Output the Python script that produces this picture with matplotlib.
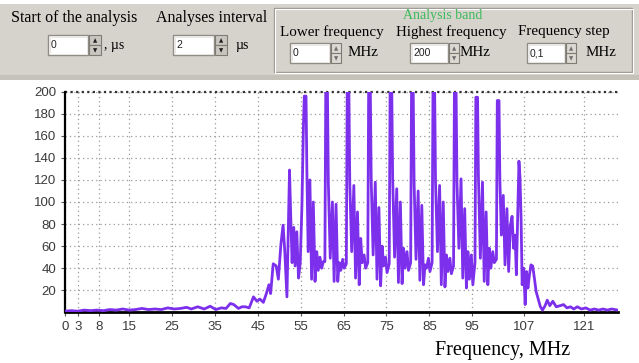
import matplotlib
matplotlib.use("Agg")
import matplotlib.pyplot as plt
from matplotlib.patches import Rectangle

# spectrum (vertices of the trace)
freq_mhz = [0, 1.5, 3, 4.5, 6, 7.5, 9, 10.5, 12, 13.5, 15, 16.5, 18, 19.5, 21, 22.5,
            24, 25.5, 27, 28.4, 29.5, 31, 32.5, 33.9, 35.2, 36.5, 37.6, 38.6, 39.4,
            40.5, 41.3, 42.1, 43.0, 44.0, 44.8, 45.5, 46.3, 47.0, 47.6, 48.0, 48.6,
            49.3, 49.8, 50.4, 50.9, 51.3, 51.8, 52.4, 52.7, 53.0, 53.4, 53.7, 54.1,
            54.5, 54.9, 55.3, 55.65,
            55.85, 56.25, 56.45, 56.75, 57.15, 57.55, 57.95, 58.35, 58.75, 59.1, 59.5, 59.9, 60.3, 60.65,
            60.85, 61.25, 61.45, 61.9, 62.4, 62.8, 63.25, 63.65, 64.0, 64.35, 64.8, 65.15, 65.65,
            65.85, 66.25, 66.45, 66.9, 67.4, 67.8, 68.25, 68.65, 69.0, 69.35, 69.8, 70.15, 70.65,
            70.85, 71.25, 71.45, 71.9, 72.4, 72.8, 73.25, 73.65, 74.0, 74.35, 74.8, 75.15, 75.65,
            75.85, 76.25, 76.45, 76.9, 77.4, 77.8, 78.25, 78.65, 79.0, 79.35, 79.8, 80.15, 80.65,
            80.85, 81.25, 81.45, 81.9, 82.4, 82.8, 83.25, 83.65, 84.0, 84.35, 84.8, 85.15, 85.65,
            85.85, 86.25, 86.45, 86.9, 87.4, 87.8, 88.25, 88.65, 89.0, 89.35, 89.8, 90.15, 90.65,
            90.85, 91.25, 91.45, 91.9, 92.4, 92.8, 93.25, 93.65, 94.0, 94.35, 94.8, 95.15, 95.65,
            95.85, 96.25, 96.45, 96.9, 97.4, 97.8, 98.25, 98.65, 99.0, 99.35, 99.8, 100.15, 100.65,
            100.85, 101.25, 101.45, 101.8, 102.25, 102.65, 103.1, 103.5, 103.9, 104.3, 104.65,
            105.0, 105.3, 105.6, 105.9, 106.15, 106.4, 106.65, 107.0, 107.35, 107.65, 108.0,
            108.35, 108.7, 109.1, 109.5, 109.9, 110.4, 110.9, 111.4, 112.0, 112.5, 113.1,
            113.8, 114.6, 115.5, 116.3, 117.1, 117.9, 118.7, 119.5, 120.5, 121.5, 122.5,
            123.5, 124.5, 125.5, 126.5, 127.5, 129]
level = [1, 1.5, 1, 2, 1.5, 2, 1.5, 2.5, 2, 3, 2, 2.5, 3.5, 2.5, 3, 2.5,
         4, 3, 3.5, 4.5, 3, 5, 3, 5.5, 2.5, 4, 3.5, 8, 7,
         3.5, 5, 5, 4, 14, 10, 12, 9, 17, 25, 17, 44,
         42, 30, 62, 79, 55, 14, 129, 85, 45, 77, 42, 73,
         31, 45, 97, 170,
         196, 196, 128, 55, 120, 30, 100, 28, 55, 38, 50, 40, 46, 46,
         200, 200, 118, 49, 100, 28, 98, 28, 45, 38, 48, 40, 44,
         200, 200, 118, 55, 115, 31, 91, 25, 67, 45, 52, 40, 45,
         200, 200, 120, 52, 118, 30, 95, 24, 60, 42, 50, 36, 44,
         200, 200, 122, 50, 112, 27, 100, 26, 58, 40, 55, 38, 45,
         200, 200, 118, 48, 110, 29, 97, 25, 43, 40, 49, 37, 45,
         200, 200, 118, 55, 115, 25, 100, 23, 52, 37, 49, 35, 42,
         200, 200, 118, 58, 121, 31, 94, 22, 55, 30, 52, 25, 45,
         195, 195, 124, 49, 118, 28, 91, 25, 58, 40, 55, 45, 48,
         192, 192, 121, 70, 106, 43, 94, 37, 79, 87, 58,
         70, 34, 85, 137, 122, 85, 25, 40, 7, 37, 22,
         34, 43, 42, 31, 19, 12, 5, 2, 6, 11, 6,
         10, 5, 6, 7, 4, 5, 3, 5, 3, 4, 2,
         3, 2, 3, 2, 3, 2]

x_ticks = [0, 3, 8, 15, 25, 35, 45, 55, 65, 75, 85, 95, 107, 121]
y_ticks = [20, 40, 60, 80, 100, 120, 140, 160, 180, 200]

W, H = 639, 363
fig = plt.figure(figsize=(W / 100, H / 100), dpi=100, facecolor="white")

# ---- control panel drawn in pixel coordinates
ui = fig.add_axes([0, 0, 1, 1])
ui.set_xlim(0, W)
ui.set_ylim(H, 0)
ui.axis("off")

serif = "Liberation Serif"
ui.add_patch(Rectangle((0, 4), W, 72, facecolor="#d6d3cc", edgecolor="none"))
ui.add_patch(Rectangle((0, 75), W, 5, facecolor="#c5c2ba", edgecolor="none"))
# group box
ui.add_patch(Rectangle((274, 8), 358, 64, facecolor="none", edgecolor="#9c9992", lw=1))
ui.add_patch(Rectangle((275, 9), 358, 64, facecolor="none", edgecolor="white", lw=0.8))


def spin_box(x, y, w, h, txt, sw, dark):
    ui.add_patch(Rectangle((x, y), w, h, facecolor="white", edgecolor="#8f8c86", lw=1))
    ui.add_patch(Rectangle((x + 1.5, y + 1.5), w - 3, h - 3, facecolor="white",
                           edgecolor="#e6e4df", lw=0.6))
    ui.text(x + 3, y + h / 2 + 0.5, txt, fontsize=7.5, family="Liberation Sans",
            va="center", ha="left", color="#222222")
    bx = x + w + 1
    fc = "#c9c6bf" if dark else "#dcd9d3"
    ui.add_patch(Rectangle((bx, y), sw, h / 2, facecolor=fc, edgecolor="#7e7b75", lw=0.8))
    ui.add_patch(Rectangle((bx, y + h / 2), sw, h / 2, facecolor=fc, edgecolor="#7e7b75", lw=0.8))
    ui.text(bx + sw / 2, y + h / 4 + 0.5, "\u25b2", fontsize=4, ha="center", va="center",
            color="#202020" if dark else "#707070")
    ui.text(bx + sw / 2, y + 3 * h / 4 + 0.5, "\u25bc", fontsize=4, ha="center", va="center",
            color="#202020" if dark else "#707070")


ui.text(11, 18, "Start of the analysis", fontsize=11.5, family=serif, va="center")
ui.text(156, 18, "Analyses interval", fontsize=11.5, family=serif, va="center")
spin_box(48, 35, 40, 20, "0", 12, True)
ui.text(104, 45, ", \u00b5s", fontsize=10, family=serif, va="center")
spin_box(173, 35, 41, 20, "2", 12, True)
ui.text(236, 45, "\u00b5s", fontsize=10, family=serif, va="center")

ui.text(443, 16, "Analysis band", fontsize=10, family=serif, va="center", ha="center",
        color="#3cb95a")
ui.text(280, 32, "Lower frequency", fontsize=10.8, family=serif, va="center")
ui.text(396, 32, "Highest frequency", fontsize=10.8, family=serif, va="center")
ui.text(518, 32, "Frequency step", fontsize=10.8, family=serif, va="center")
spin_box(290, 43, 40, 20, "0", 10, False)
ui.text(348, 53, "MHz", fontsize=10.8, family=serif, va="center")
spin_box(410, 43, 38, 20, "200", 10, False)
ui.text(460, 53, "MHz", fontsize=10.8, family=serif, va="center")
spin_box(527, 43, 38, 20, "0,1", 10, False)
ui.text(586, 53, "MHz", fontsize=10.8, family=serif, va="center")

# ---- spectrum chart
ax = fig.add_axes([64.8 / W, 1 - 312.3 / H, (618 - 64.8) / W, (312.3 - 91.7) / H])
ax.set_facecolor("none")
ax.plot(freq_mhz, level, color="#7d30ec", lw=2.0, zorder=3)
ax.set_xlim(0, 129)
ax.set_ylim(0, 200)
ax.set_xticks(x_ticks)
ax.set_yticks(y_ticks)
tick_font = ["Liberation Sans Narrow", "Liberation Sans"]
for lab in ax.get_xticklabels() + ax.get_yticklabels():
    lab.set_family(tick_font)
    lab.set_fontsize(9.5)
    lab.set_color("#3a3a3a")
ax.tick_params(length=3, width=0.8, color="#555555", pad=3)
ax.grid(True, color="#9a9a9a", lw=0.9, ls=(0, (1, 2.5)))
for s in ["top", "right"]:
    ax.spines[s].set_visible(False)
ax.spines["left"].set_linewidth(1.6)
ax.spines["bottom"].set_linewidth(2)
ax.axhline(200, color="#333333", lw=1.6, ls=(0, (1, 1.5)), clip_on=False, zorder=2)
fig.text(435 / W, 1 - 350 / H, "Frequency, MHz", fontsize=14.5, family=serif,
         ha="left", va="center")

fig.savefig("out.png", dpi=100, facecolor="white")
